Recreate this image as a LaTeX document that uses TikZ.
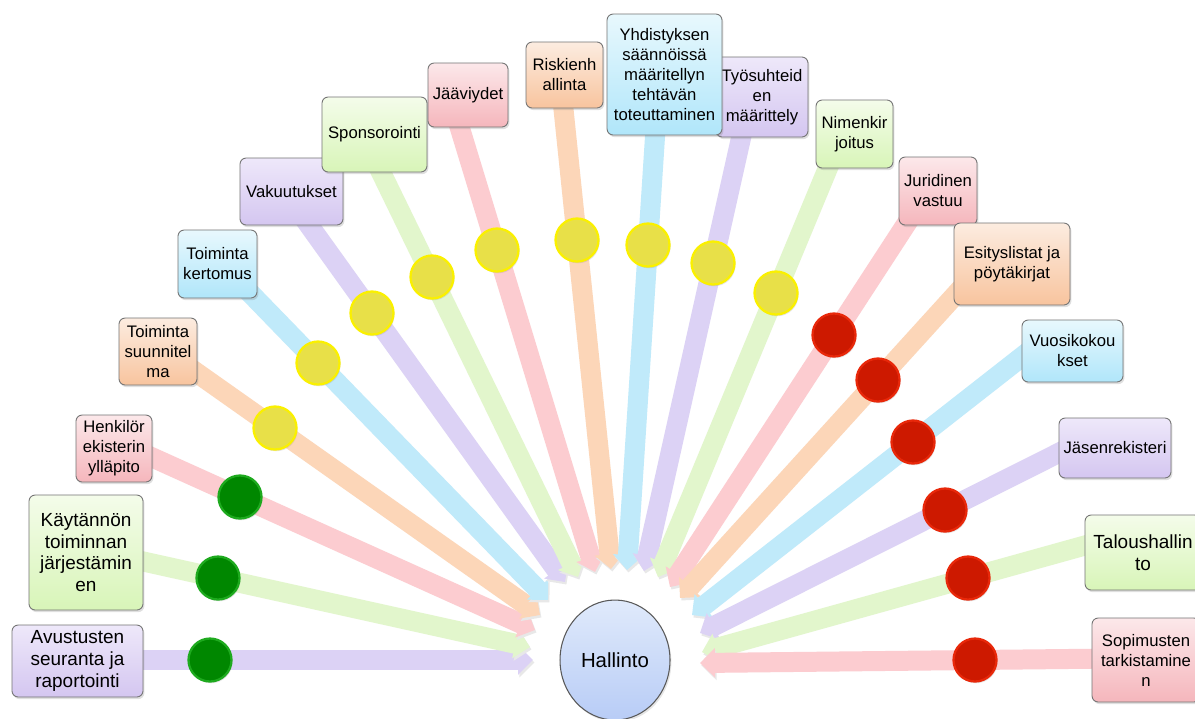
\documentclass[tikz,border=0pt]{standalone}
\usepackage{fontspec}
\setmainfont{Liberation Sans}
\usetikzlibrary{shapes.geometric, arrows.meta, calc, backgrounds, shadows}
\definecolor{lilatop}{RGB}{238,232,250}
\definecolor{lilabot}{RGB}{212,198,240}
\definecolor{lilaarr}{RGB}{220,210,245}
\definecolor{vihrtop}{RGB}{244,252,234}
\definecolor{vihrbot}{RGB}{216,245,184}
\definecolor{vihrarr}{RGB}{226,246,204}
\definecolor{punatop}{RGB}{252,232,234}
\definecolor{punabot}{RGB}{245,182,188}
\definecolor{punaarr}{RGB}{252,204,208}
\definecolor{orantop}{RGB}{252,236,224}
\definecolor{oranbot}{RGB}{248,196,158}
\definecolor{oranarr}{RGB}{252,214,184}
\definecolor{sinitop}{RGB}{232,248,253}
\definecolor{sinibot}{RGB}{176,230,250}
\definecolor{siniarr}{RGB}{192,234,250}
\definecolor{hubtop}{RGB}{224,234,251}
\definecolor{hubbot}{RGB}{184,204,246}
\definecolor{palloG}{RGB}{0,135,0}
\definecolor{palloGrim}{RGB}{30,170,30}
\definecolor{palloY}{RGB}{232,224,72}
\definecolor{palloYrim}{RGB}{250,240,0}
\definecolor{palloR}{RGB}{205,25,0}
\definecolor{palloRrim}{RGB}{232,40,10}

\begin{document}
\begin{tikzpicture}[
  x=0.02cm, y=-0.02cm,
  box/.style={rectangle, rounded corners=3.5pt, draw=black!55, line width=0.5pt, align=center, inner sep=2pt, font=\fontsize{9.5}{11.4}\selectfont, drop shadow={opacity=0.25, shadow xshift=0.8pt, shadow yshift=-1.2pt}},
  bigtext/.style={font=\fontsize{10.8}{12.4}\selectfont},
  lilabox/.style={box, top color=lilatop, bottom color=lilabot},
  vihrbox/.style={box, top color=vihrtop, bottom color=vihrbot},
  punabox/.style={box, top color=punatop, bottom color=punabot},
  oranbox/.style={box, top color=orantop, bottom color=oranbot},
  sinibox/.style={box, top color=sinitop, bottom color=sinibot},
  pallo/.style={circle, minimum size=0.86cm, inner sep=0pt, line width=1.3pt, drop shadow={opacity=0.2, shadow xshift=0.6pt, shadow yshift=-1pt}},
  greendot/.style={pallo, fill=palloG, draw=palloGrim},
  yellowdot/.style={pallo, fill=palloY, draw=palloYrim},
  reddot/.style={pallo, fill=palloR, draw=palloRrim},
  hub/.style={ellipse, draw=black!65, line width=0.6pt, top color=hubtop, bottom color=hubbot, minimum width=2.2cm, minimum height=2.4cm, inner sep=0pt, font=\fontsize{11.6}{13}\selectfont, drop shadow={opacity=0.2, shadow xshift=0.8pt, shadow yshift=-1.2pt}},
  arr/.style={line width=0.4cm, -{Triangle[length=0.3cm, width=0.58cm]}, preaction={draw=black!9, transform canvas={shift={(0.8pt,-1.4pt)}}}}
]
  \useasboundingbox (0,0) rectangle (1195,718);

  % tehtavat
  \node[lilabox, bigtext, minimum width=2.62cm, minimum height=1.44cm] (avustus) at (77.5,661) {Avustusten\\seuranta ja\\raportointi};
  \node[vihrbox, bigtext, minimum width=2.28cm, minimum height=2.3cm] (kaytanto) at (86,552.5) {Käytännön\\toiminnan\\järjestämin\\en};
  \node[punabox, minimum width=1.52cm, minimum height=1.34cm] (henkilo) at (114,448.5) {Henkilör\\ekisterin\\ylläpito};
  \node[oranbox, minimum width=1.56cm, minimum height=1.34cm] (suunnitelma) at (158,351.5) {Toiminta\\suunnitel\\ma};
  \node[sinibox, minimum width=1.58cm, minimum height=1.36cm] (kertomus) at (217.5,264) {Toiminta\\kertomus};
  \node[lilabox, minimum width=2.06cm, minimum height=1.34cm] (vakuutus) at (291.5,191.5) {Vakuutukset};
  \node[vihrbox, minimum width=2.1cm, minimum height=1.5cm] (sponsor) at (374.5,134.5) {Sponsorointi};
  \node[punabox, minimum width=1.6cm, minimum height=1.28cm] (jaavi) at (468,95) {Jääviydet};
  \node[oranbox, minimum width=1.54cm, minimum height=1.32cm] (riski) at (564.5,75) {Riskienh\\allinta};
  \node[lilabox, minimum width=1.84cm, minimum height=1.6cm] (tyosuhde) at (762,97) {Työsuhteid\\en\\määrittely};
  \node[sinibox, minimum width=2.3cm, minimum height=2.42cm] (yhdistys) at (664.5,74.5) {Yhdistyksen\\säännöissä\\määritellyn\\tehtävän\\toteuttaminen};
  \node[vihrbox, minimum width=1.54cm, minimum height=1.36cm] (nimi) at (854.5,134) {Nimenkir\\joitus};
  \node[punabox, minimum width=1.56cm, minimum height=1.36cm] (juridi) at (938,191) {Juridinen\\vastuu};
  \node[oranbox, minimum width=2.32cm, minimum height=1.64cm] (esitys) at (1012,264) {Esityslistat ja\\pöytäkirjat};
  \node[sinibox, minimum width=2.02cm, minimum height=1.24cm] (vuosikok) at (1072.5,351) {Vuosikokou\\kset};
  \node[lilabox, minimum width=2.24cm, minimum height=1.2cm] (jasen) at (1115,448) {Jäsenrekisteri};
  \node[vihrbox, bigtext, minimum width=2.32cm, minimum height=1.5cm] (talous) at (1143,552.5) {Taloushallin\\to};
  \node[punabox, minimum width=2.16cm, minimum height=1.68cm] (sopimus) at (1146,660) {Sopimusten\\tarkistamine\\n};

  \node[hub] (hub) at (615,660) {Hallinto};

  % pallot
  \node[greendot] (avustus-pallo) at (210,660) {};
  \node[greendot] (kaytanto-pallo) at (218,578) {};
  \node[greendot] (henkilo-pallo) at (240,497) {};
  \node[yellowdot] (suunnitelma-pallo) at (275,428) {};
  \node[yellowdot] (kertomus-pallo) at (318,363) {};
  \node[yellowdot] (vakuutus-pallo) at (372,313) {};
  \node[yellowdot] (sponsor-pallo) at (432,277) {};
  \node[yellowdot] (jaavi-pallo) at (497,250) {};
  \node[yellowdot] (riski-pallo) at (577,240) {};
  \node[yellowdot] (yhdistys-pallo) at (648,245) {};
  \node[yellowdot] (tyosuhde-pallo) at (713,263) {};
  \node[yellowdot] (nimi-pallo) at (776,293) {};
  \node[reddot] (juridi-pallo) at (834,335) {};
  \node[reddot] (esitys-pallo) at (878,380) {};
  \node[reddot] (vuosikok-pallo) at (913,442) {};
  \node[reddot] (jasen-pallo) at (945,510) {};
  \node[reddot] (talous-pallo) at (968,578) {};
  \node[reddot] (sopimus-pallo) at (975,660) {};

  % nuolten karjet
  \coordinate (avustus-karki) at (533,660);
  \coordinate (kaytanto-karki) at (530,647);
  \coordinate (henkilo-karki) at (535,630);
  \coordinate (suunnitelma-karki) at (540,615);
  \coordinate (kertomus-karki) at (548,600);
  \coordinate (vakuutus-karki) at (565,582);
  \coordinate (sponsor-karki) at (578,577);
  \coordinate (jaavi-karki) at (595,572);
  \coordinate (riski-karki) at (611,569);
  \coordinate (yhdistys-karki) at (627,570);
  \coordinate (tyosuhde-karki) at (644,571);
  \coordinate (nimi-karki) at (658,577);
  \coordinate (juridi-karki) at (670,587);
  \coordinate (esitys-karki) at (680,598);
  \coordinate (vuosikok-karki) at (692,615);
  \coordinate (jasen-karki) at (700,633);
  \coordinate (talous-karki) at (702,652);
  \coordinate (sopimus-karki) at (700,663);

  \begin{scope}[on background layer]
    \fill[white] (0,0) rectangle (1195,718);
    \draw[arr, draw=lilaarr] ($(avustus-karki)!1.35!(avustus-pallo)$) -- (avustus-karki);
    \draw[arr, draw=vihrarr] ($(kaytanto-karki)!1.3!(kaytanto-pallo)$) -- (kaytanto-karki);
    \draw[arr, draw=punaarr] ($(henkilo-karki)!1.4!(henkilo-pallo)$) -- (henkilo-karki);
    \draw[arr, draw=oranarr] ($(suunnitelma-karki)!1.4!(suunnitelma-pallo)$) -- (suunnitelma-karki);
    \draw[arr, draw=siniarr] ($(kertomus-karki)!1.4!(kertomus-pallo)$) -- (kertomus-karki);
    \draw[arr, draw=lilaarr] ($(vakuutus-karki)!1.45!(vakuutus-pallo)$) -- (vakuutus-karki);
    \draw[arr, draw=vihrarr] ($(sponsor-karki)!1.45!(sponsor-pallo)$) -- (sponsor-karki);
    \draw[arr, draw=punaarr] ($(jaavi-karki)!1.45!(jaavi-pallo)$) -- (jaavi-karki);
    \draw[arr, draw=oranarr] ($(riski-karki)!1.45!(riski-pallo)$) -- (riski-karki);
    \draw[arr, draw=siniarr] ($(yhdistys-karki)!1.45!(yhdistys-pallo)$) -- (yhdistys-karki);
    \draw[arr, draw=lilaarr] ($(tyosuhde-karki)!1.5!(tyosuhde-pallo)$) -- (tyosuhde-karki);
    \draw[arr, draw=vihrarr] ($(nimi-karki)!1.5!(nimi-pallo)$) -- (nimi-karki);
    \draw[arr, draw=punaarr] ($(juridi-karki)!1.5!(juridi-pallo)$) -- (juridi-karki);
    \draw[arr, draw=oranarr] ($(esitys-karki)!1.5!(esitys-pallo)$) -- (esitys-karki);
    \draw[arr, draw=siniarr] ($(vuosikok-karki)!1.6!(vuosikok-pallo)$) -- (vuosikok-karki);
    \draw[arr, draw=lilaarr] ($(jasen-karki)!1.6!(jasen-pallo)$) -- (jasen-karki);
    \draw[arr, draw=vihrarr] ($(talous-karki)!1.6!(talous-pallo)$) -- (talous-karki);
    \draw[arr, draw=punaarr] ($(sopimus-karki)!1.6!(sopimus-pallo)$) -- (sopimus-karki);
  \end{scope}

\end{tikzpicture}
\end{document}
